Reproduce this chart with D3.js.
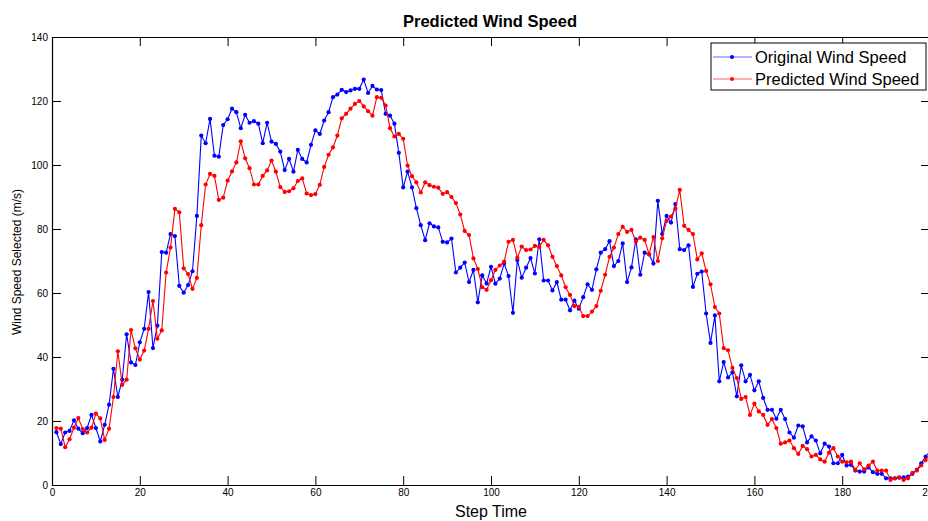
<!DOCTYPE html>
<html>
<head>
<meta charset="utf-8">
<script src="https://cdn.jsdelivr.net/npm/d3@7"></script>
<style>
  body { margin: 0; background: #fff; }
  svg { display: block; font-family: "Liberation Sans", Arial, sans-serif; }
</style>
</head>
<body>
<div id="chart"></div>
<script>
// Wind speed per step (steps 1..200)
const original = [
  16.5, 12.8, 16.4, 16.9, 20.2, 17.6, 16.2, 17.8, 21.9, 17.8,
  13.6, 18.8, 25.1, 36.3, 27.5, 32.9, 47.1, 38.3, 37.5, 44.6,
  48.8, 60.3, 42.8, 49.8, 72.8, 72.6, 78.4, 77.8, 62.2, 60.1,
  62.5, 66.8, 84.1, 109.2, 106.8, 114.4, 102.9, 102.6, 112.5, 114.3,
  117.6, 116.5, 111.5, 115.7, 113.2, 113.7, 112.9, 106.8, 113.2, 107.3,
  106.6, 104.2, 98.4, 101.9, 97.9, 104.7, 101.9, 100.8, 106.3, 110.8,
  109.7, 113.9, 116.5, 121.2, 122.0, 123.5, 122.8, 123.3, 123.8, 123.8,
  126.7, 122.5, 124.7, 123.6, 123.4, 116.0, 115.4, 112.9, 103.8, 93.0,
  97.9, 93.0, 86.5, 81.2, 76.5, 81.8, 80.8, 80.5, 76.0, 75.8,
  77.0, 66.4, 67.9, 69.5, 63.4, 67.2, 57.1, 65.5, 63.0, 68.2,
  62.9, 64.5, 69.2, 65.3, 53.8, 70.3, 64.8, 67.9, 70.9, 66.1,
  76.8, 63.9, 63.9, 60.8, 63.4, 57.9, 57.9, 54.6, 57.6, 55.1,
  58.7, 62.7, 61.0, 67.4, 72.6, 73.7, 76.2, 68.4, 70.0, 75.5,
  63.4, 68.0, 76.8, 65.7, 72.6, 72.1, 69.2, 88.8, 78.4, 84.1,
  82.0, 87.8, 73.7, 73.4, 74.9, 61.9, 66.0, 66.7, 53.6, 44.4,
  53.0, 32.4, 38.4, 33.6, 35.2, 27.7, 37.4, 32.4, 34.4, 29.6,
  32.4, 27.2, 23.5, 23.5, 20.7, 23.5, 20.6, 16.4, 14.8, 18.6,
  18.3, 13.3, 15.2, 13.9, 9.9, 12.9, 12.0, 6.8, 6.8, 9.4,
  6.1, 6.3, 4.5, 4.2, 4.2, 5.5, 4.0, 3.5, 3.5, 2.1,
  2.1, 2.1, 2.3, 2.4, 2.6, 3.5, 4.7, 6.8, 8.9, 10.5
]

const predicted = [
  17.8, 17.6, 11.8, 14.3, 17.9, 20.9, 17.5, 16.4, 17.9, 22.3,
  20.8, 14.1, 17.6, 27.5, 41.8, 31.3, 32.9, 48.4, 42.7, 39.2,
  42.0, 48.8, 57.5, 45.7, 48.3, 66.4, 74.2, 86.3, 85.2, 67.7,
  65.9, 61.3, 64.7, 81.2, 93.9, 97.2, 96.6, 89.1, 89.8, 95.1,
  98.0, 100.8, 107.4, 102.1, 99.0, 93.9, 93.9, 96.6, 98.3, 101.4,
  97.9, 93.1, 91.6, 91.8, 92.7, 95.0, 95.8, 91.1, 90.6, 90.9,
  93.8, 99.4, 103.2, 105.5, 109.2, 114.6, 116.0, 117.6, 119.1, 120.0,
  118.3, 116.8, 115.4, 121.2, 121.0, 118.6, 111.5, 108.9, 109.7, 108.2,
  99.8, 96.5, 94.6, 91.4, 94.6, 93.7, 93.2, 92.9, 91.0, 91.5,
  90.0, 88.1, 84.5, 79.4, 78.1, 70.8, 67.5, 61.8, 61.0, 64.0,
  67.2, 68.6, 69.8, 76.0, 76.6, 71.0, 74.5, 73.4, 73.6, 74.7,
  74.4, 76.6, 74.9, 71.3, 68.4, 65.5, 61.8, 59.4, 55.9, 55.7,
  52.8, 52.8, 54.2, 55.9, 60.7, 65.7, 71.3, 74.2, 78.4, 80.7,
  79.1, 79.7, 76.1, 77.3, 76.6, 72.1, 77.5, 70.0, 77.1, 82.5,
  83.9, 86.4, 92.2, 81.0, 79.7, 78.4, 70.5, 72.4, 66.9, 62.7,
  55.6, 53.6, 42.8, 42.1, 36.6, 33.4, 26.9, 27.5, 21.9, 25.4,
  23.0, 21.9, 18.8, 20.6, 17.8, 12.9, 13.3, 13.9, 11.5, 9.7,
  12.2, 11.2, 8.9, 9.4, 8.0, 7.3, 10.1, 11.5, 8.9, 7.3,
  7.1, 7.3, 4.7, 6.8, 4.9, 6.1, 7.3, 4.5, 4.5, 4.5,
  1.6, 2.1, 2.4, 1.6, 2.1, 3.8, 4.5, 6.1, 7.8, 9.7
]

const xTicks = [0, 20, 40, 60, 80, 100, 120, 140, 160, 180, 200]
const yTicks = [0, 20, 40, 60, 80, 100, 120, 140]
const seriesNames = ['Original Wind Speed', 'Predicted Wind Speed']
const seriesColors = ['#0000ff', '#ff0000']

const W = 928, H = 521
const margin = { top: 37, right: -2, bottom: 36, left: 52 }
const width = W - margin.left - margin.right
const height = H - margin.top - margin.bottom

const svg = d3.select('#chart')
    .append('svg')
    .attr('width', W)
    .attr('height', H)

const g = svg.append('g')
    .attr('transform', `translate(${margin.left},${margin.top})`)

const x = d3.scaleLinear().domain([0, 200]).range([0, width])
const y = d3.scaleLinear().domain([0, 140]).range([height, 0])

// matlab style box with inward ticks on all four sides
const tickLen = 9
g.append('g')
    .attr('transform', `translate(0,${height})`)
    .call(d3.axisBottom(x).tickValues(xTicks).tickSizeInner(-tickLen).tickSizeOuter(0).tickPadding(4))
g.append('g')
    .call(d3.axisTop(x).tickValues(xTicks).tickSizeInner(-tickLen).tickSizeOuter(0).tickFormat(''))
g.append('g')
    .call(d3.axisLeft(y).tickValues(yTicks).tickSizeInner(-tickLen).tickSizeOuter(0).tickPadding(4))
g.append('g')
    .attr('transform', `translate(${width},0)`)
    .call(d3.axisRight(y).tickValues(yTicks).tickSizeInner(-tickLen).tickSizeOuter(0).tickFormat(''))

g.selectAll('.domain').attr('stroke', '#000').attr('stroke-width', 1.2)
g.selectAll('.tick line').attr('stroke', '#000')
g.selectAll('.tick text')
    .attr('fill', '#000')
    .style('font-size', '10px')
    .style('font-family', '"Liberation Sans", Arial, sans-serif')

// series
const line = d3.line()
    .x((d, i) => x(i + 1))
    .y(d => y(d))

const series = [original, predicted]
series.forEach((values, k) => {
    const s = g.append('g')
    s.append('path')
        .datum(values)
        .attr('fill', 'none')
        .attr('stroke', seriesColors[k])
        .attr('stroke-width', 1.1)
        .attr('d', line)
    s.selectAll('circle')
        .data(values)
        .join('circle')
        .attr('cx', (d, i) => x(i + 1))
        .attr('cy', d => y(d))
        .attr('r', 2.1)
        .attr('fill', seriesColors[k])
})

// titles
svg.append('text')
    .attr('x', margin.left + x(100) - 1)
    .attr('y', 27)
    .attr('text-anchor', 'middle')
    .style('font-size', '16.5px')
    .style('font-weight', 'bold')
    .text('Predicted Wind Speed')

svg.append('text')
    .attr('x', margin.left + x(100))
    .attr('y', 517)
    .attr('text-anchor', 'middle')
    .style('font-size', '16px')
    .text('Step Time')

svg.append('text')
    .attr('transform', `translate(21,${margin.top + height / 2 + 1}) rotate(-90)`)
    .attr('text-anchor', 'middle')
    .style('font-size', '12px')
    .text('Wind Speed Selected (m/s)')

// legend
const legend = svg.append('g').attr('transform', 'translate(711,43)')
legend.append('rect')
    .attr('width', 215)
    .attr('height', 47)
    .attr('fill', '#fff')
    .attr('stroke', '#000')
    .attr('stroke-width', 1)

seriesNames.forEach((name, k) => {
    const row = legend.append('g').attr('transform', `translate(0,${14 + k * 22})`)
    row.append('line')
        .attr('x1', 2).attr('x2', 41)
        .attr('stroke', seriesColors[k])
        .attr('stroke-opacity', 0.6)
        .attr('stroke-width', 1.1)
    row.append('circle')
        .attr('cx', 21).attr('r', 2)
        .attr('fill', seriesColors[k])
    row.append('text')
        .attr('x', 44)
        .attr('y', 6)
        .style('font-size', '16.5px')
        .text(name)
})
</script>
</body>
</html>
